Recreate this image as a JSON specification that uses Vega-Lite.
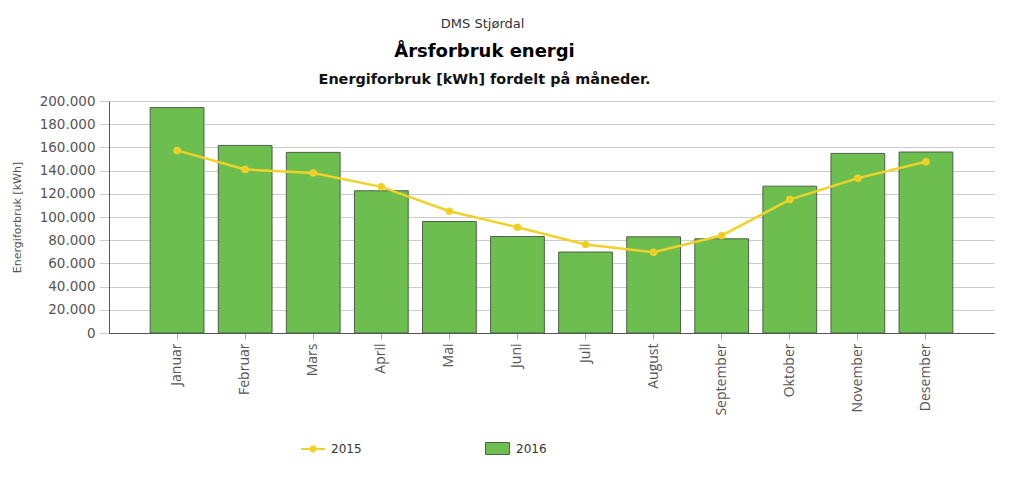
{
  "$schema": "https://vega.github.io/schema/vega-lite/v6.json",
  "padding": {"left": 11, "top": 17, "right": 5, "bottom": 5},
  "background": "white",
  "config": {
    "locale": {"number": {"decimal": ",", "thousands": ".", "grouping": [3], "currency": ["", " kr"]}},
    "view": {"stroke": null},
    "concat": {"spacing": 0},
    "legend": {"padding": 0}
  },
  "title": {
    "text": "DMS Stjørdal",
    "font": "DejaVu Sans",
    "fontSize": 13,
    "fontWeight": "normal",
    "color": "#333333",
    "anchor": "middle",
    "dx": -20,
    "offset": 12
  },
  "datasets": {
    "energi": [
      {"maned": "Januar", "ar": "2016", "kwh": 194300},
      {"maned": "Februar", "ar": "2016", "kwh": 161700},
      {"maned": "Mars", "ar": "2016", "kwh": 155700},
      {"maned": "April", "ar": "2016", "kwh": 122600},
      {"maned": "Mai", "ar": "2016", "kwh": 96100},
      {"maned": "Juni", "ar": "2016", "kwh": 83200},
      {"maned": "Juli", "ar": "2016", "kwh": 69800},
      {"maned": "August", "ar": "2016", "kwh": 82900},
      {"maned": "September", "ar": "2016", "kwh": 81200},
      {"maned": "Oktober", "ar": "2016", "kwh": 126600},
      {"maned": "November", "ar": "2016", "kwh": 154800},
      {"maned": "Desember", "ar": "2016", "kwh": 156000},
      {"maned": "Januar", "ar": "2015", "kwh": 157400},
      {"maned": "Februar", "ar": "2015", "kwh": 141000},
      {"maned": "Mars", "ar": "2015", "kwh": 137900},
      {"maned": "April", "ar": "2015", "kwh": 126000},
      {"maned": "Mai", "ar": "2015", "kwh": 105000},
      {"maned": "Juni", "ar": "2015", "kwh": 91200},
      {"maned": "Juli", "ar": "2015", "kwh": 76300},
      {"maned": "August", "ar": "2015", "kwh": 69600},
      {"maned": "September", "ar": "2015", "kwh": 84000},
      {"maned": "Oktober", "ar": "2015", "kwh": 115000},
      {"maned": "November", "ar": "2015", "kwh": 133500},
      {"maned": "Desember", "ar": "2015", "kwh": 147700}
    ]
  },
  "vconcat": [
    {
      "width": 885,
      "height": 232,
      "title": {
        "text": "Årsforbruk energi",
        "subtitle": "Energiforbruk [kWh] fordelt på måneder.",
        "font": "DejaVu Sans",
        "fontSize": 18,
        "fontWeight": "bold",
        "color": "#000000",
        "subtitleFont": "DejaVu Sans",
        "subtitleFontSize": 14.4,
        "subtitleFontWeight": "bold",
        "subtitleColor": "#111111",
        "subtitlePadding": 12,
        "anchor": "middle",
        "frame": "group",
        "dx": -67,
        "offset": 8
      },
      "data": {"name": "energi"},
      "encoding": {
        "x": {
          "field": "maned",
          "type": "nominal",
          "sort": null,
          "scale": {"paddingInner": 0.21, "paddingOuter": 0.605},
          "axis": {
            "title": null,
            "labelAngle": -90,
            "labelFont": "Open Sans",
            "labelFontSize": 14,
            "labelColor": "#555555",
            "labelPadding": 4,
            "tickSize": 6,
            "tickColor": "#aaaaaa",
            "domainColor": "#555555",
            "domainWidth": 1
          }
        },
        "y": {
          "field": "kwh",
          "type": "quantitative",
          "scale": {"domain": [0, 200000], "nice": false},
          "axis": {
            "title": "Energiforbruk [kWh]",
            "titleFont": "DejaVu Sans",
            "titleFontSize": 11,
            "titleFontWeight": "normal",
            "titleColor": "#555555",
            "titlePadding": 17,
            "values": [0, 20000, 40000, 60000, 80000, 100000, 120000, 140000, 160000, 180000, 200000],
            "format": ",d",
            "labelFont": "DejaVu Sans",
            "labelFontSize": 13.5,
            "labelColor": "#555555",
            "labelPadding": 4,
            "tickSize": 10,
            "tickColor": "#cccccc",
            "domainColor": "#555555",
            "gridColor": "#cccccc",
            "grid": true
          }
        }
      },
      "layer": [
        {
          "transform": [{"filter": "datum.ar === '2016'"}],
          "mark": {"type": "bar", "stroke": "#4f5f48", "strokeWidth": 1},
          "encoding": {
            "fill": {
              "field": "ar",
              "type": "nominal",
              "scale": {"domain": ["2016"], "range": ["#6cbf4e"]},
              "legend": {
                "title": null,
                "orient": "none",
                "legendX": 376,
                "legendY": 335,
                "labelFont": "DejaVu Sans",
                "labelFontSize": 12,
                "labelColor": "#333333",
                "labelOffset": 6,
                "symbolType": "M-1,-0.5H1V0.5H-1Z",
                "symbolSize": 576,
                "symbolStrokeWidth": 1,
                "symbolStrokeColor": "#4f5f48"
              }
            }
          }
        },
        {
          "transform": [{"filter": "datum.ar === '2015'"}],
          "mark": {"type": "line", "strokeWidth": 2.5, "point": {"filled": true, "size": 30, "color": "#f2c81e"}},
          "encoding": {
            "stroke": {
              "field": "ar",
              "type": "nominal",
              "scale": {"domain": ["2015"], "range": ["#f0d22a"]},
              "legend": {
                "title": null,
                "orient": "none",
                "legendX": 191,
                "legendY": 335,
                "labelFont": "DejaVu Sans",
                "labelFontSize": 12,
                "labelColor": "#333333",
                "labelOffset": 5,
                "symbolType": "M-1,0H1M-0.2,0A0.2,0.2,0,1,0,0.2,0A0.2,0.2,0,1,0,-0.2,0Z",
                "symbolSize": 576,
                "symbolStrokeWidth": 2,
                "symbolFillColor": "#f2c81e"
              }
            }
          }
        }
      ]
    }
  ]
}
